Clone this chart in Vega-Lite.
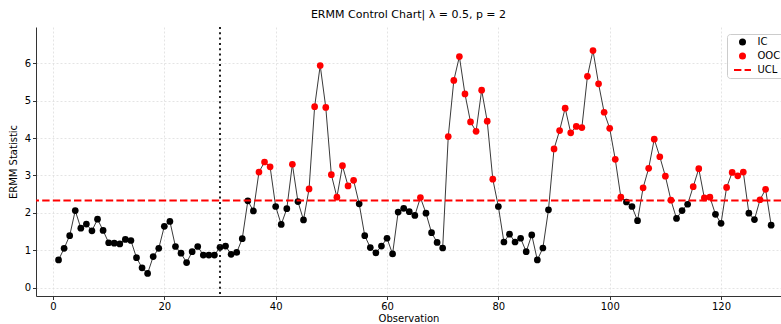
{
  "$schema": "https://vega.github.io/schema/vega-lite/v6.json",
  "autosize": {"type": "none"},
  "padding": {"left": 36, "top": 27, "right": 0, "bottom": 28},
  "width": 745,
  "height": 269,
  "title": {"text": "ERMM Control Chart| λ = 0.5, p = 2", "fontSize": 11, "fontWeight": "normal", "offset": 6, "color": "#000", "font": "DejaVu Sans"},
  "datasets": {
    "obs": [
      {"obs":1,"value":0.74,"status":"IC"},{"obs":2,"value":1.05,"status":"IC"},{"obs":3,"value":1.39,"status":"IC"},{"obs":4,"value":2.06,"status":"IC"},{"obs":5,"value":1.59,"status":"IC"},
      {"obs":6,"value":1.70,"status":"IC"},{"obs":7,"value":1.52,"status":"IC"},{"obs":8,"value":1.83,"status":"IC"},{"obs":9,"value":1.53,"status":"IC"},{"obs":10,"value":1.20,"status":"IC"},
      {"obs":11,"value":1.19,"status":"IC"},{"obs":12,"value":1.17,"status":"IC"},{"obs":13,"value":1.29,"status":"IC"},{"obs":14,"value":1.26,"status":"IC"},{"obs":15,"value":0.80,"status":"IC"},
      {"obs":16,"value":0.53,"status":"IC"},{"obs":17,"value":0.38,"status":"IC"},{"obs":18,"value":0.83,"status":"IC"},{"obs":19,"value":1.05,"status":"IC"},{"obs":20,"value":1.64,"status":"IC"},
      {"obs":21,"value":1.77,"status":"IC"},{"obs":22,"value":1.10,"status":"IC"},{"obs":23,"value":0.92,"status":"IC"},{"obs":24,"value":0.67,"status":"IC"},{"obs":25,"value":0.96,"status":"IC"},
      {"obs":26,"value":1.10,"status":"IC"},{"obs":27,"value":0.87,"status":"IC"},{"obs":28,"value":0.87,"status":"IC"},{"obs":29,"value":0.87,"status":"IC"},{"obs":30,"value":1.08,"status":"IC"},
      {"obs":31,"value":1.11,"status":"IC"},{"obs":32,"value":0.89,"status":"IC"},{"obs":33,"value":0.94,"status":"IC"},{"obs":34,"value":1.31,"status":"IC"},{"obs":35,"value":2.32,"status":"IC"},
      {"obs":36,"value":2.05,"status":"IC"},{"obs":37,"value":3.09,"status":"OOC"},{"obs":38,"value":3.36,"status":"OOC"},{"obs":39,"value":3.23,"status":"OOC"},{"obs":40,"value":2.17,"status":"IC"},
      {"obs":41,"value":1.69,"status":"IC"},{"obs":42,"value":2.11,"status":"IC"},{"obs":43,"value":3.30,"status":"OOC"},{"obs":44,"value":2.30,"status":"IC"},{"obs":45,"value":1.81,"status":"IC"},
      {"obs":46,"value":2.64,"status":"OOC"},{"obs":47,"value":4.84,"status":"OOC"},{"obs":48,"value":5.94,"status":"OOC"},{"obs":49,"value":4.82,"status":"OOC"},{"obs":50,"value":3.02,"status":"OOC"},
      {"obs":51,"value":2.42,"status":"OOC"},{"obs":52,"value":3.26,"status":"OOC"},{"obs":53,"value":2.72,"status":"OOC"},{"obs":54,"value":2.87,"status":"OOC"},{"obs":55,"value":2.24,"status":"IC"},
      {"obs":56,"value":1.39,"status":"IC"},{"obs":57,"value":1.07,"status":"IC"},{"obs":58,"value":0.93,"status":"IC"},{"obs":59,"value":1.11,"status":"IC"},{"obs":60,"value":1.32,"status":"IC"},
      {"obs":61,"value":0.90,"status":"IC"},{"obs":62,"value":2.02,"status":"IC"},{"obs":63,"value":2.12,"status":"IC"},{"obs":64,"value":2.03,"status":"IC"},{"obs":65,"value":1.93,"status":"IC"},
      {"obs":66,"value":2.41,"status":"OOC"},{"obs":67,"value":1.99,"status":"IC"},{"obs":68,"value":1.47,"status":"IC"},{"obs":69,"value":1.21,"status":"IC"},{"obs":70,"value":1.06,"status":"IC"},
      {"obs":71,"value":4.04,"status":"OOC"},{"obs":72,"value":5.54,"status":"OOC"},{"obs":73,"value":6.18,"status":"OOC"},{"obs":74,"value":5.18,"status":"OOC"},{"obs":75,"value":4.43,"status":"OOC"},
      {"obs":76,"value":4.18,"status":"OOC"},{"obs":77,"value":5.28,"status":"OOC"},{"obs":78,"value":4.45,"status":"OOC"},{"obs":79,"value":2.90,"status":"OOC"},{"obs":80,"value":2.17,"status":"IC"},
      {"obs":81,"value":1.22,"status":"IC"},{"obs":82,"value":1.43,"status":"IC"},{"obs":83,"value":1.22,"status":"IC"},{"obs":84,"value":1.32,"status":"IC"},{"obs":85,"value":0.96,"status":"IC"},
      {"obs":86,"value":1.41,"status":"IC"},{"obs":87,"value":0.74,"status":"IC"},{"obs":88,"value":1.06,"status":"IC"},{"obs":89,"value":2.08,"status":"IC"},{"obs":90,"value":3.71,"status":"OOC"},
      {"obs":91,"value":4.20,"status":"OOC"},{"obs":92,"value":4.80,"status":"OOC"},{"obs":93,"value":4.14,"status":"OOC"},{"obs":94,"value":4.31,"status":"OOC"},{"obs":95,"value":4.28,"status":"OOC"},
      {"obs":96,"value":5.65,"status":"OOC"},{"obs":97,"value":6.34,"status":"OOC"},{"obs":98,"value":5.45,"status":"OOC"},{"obs":99,"value":4.69,"status":"OOC"},{"obs":100,"value":4.26,"status":"OOC"},
      {"obs":101,"value":3.43,"status":"OOC"},{"obs":102,"value":2.42,"status":"OOC"},{"obs":103,"value":2.29,"status":"IC"},{"obs":104,"value":2.17,"status":"IC"},{"obs":105,"value":1.79,"status":"IC"},
      {"obs":106,"value":2.67,"status":"OOC"},{"obs":107,"value":3.19,"status":"OOC"},{"obs":108,"value":3.97,"status":"OOC"},{"obs":109,"value":3.50,"status":"OOC"},{"obs":110,"value":2.98,"status":"OOC"},
      {"obs":111,"value":2.34,"status":"OOC"},{"obs":112,"value":1.85,"status":"IC"},{"obs":113,"value":2.06,"status":"IC"},{"obs":114,"value":2.23,"status":"IC"},{"obs":115,"value":2.70,"status":"OOC"},
      {"obs":116,"value":3.18,"status":"OOC"},{"obs":117,"value":2.40,"status":"OOC"},{"obs":118,"value":2.42,"status":"OOC"},{"obs":119,"value":1.96,"status":"IC"},{"obs":120,"value":1.72,"status":"IC"},
      {"obs":121,"value":2.68,"status":"OOC"},{"obs":122,"value":3.08,"status":"OOC"},{"obs":123,"value":2.99,"status":"OOC"},{"obs":124,"value":3.09,"status":"OOC"},{"obs":125,"value":1.99,"status":"IC"},
      {"obs":126,"value":1.82,"status":"IC"},{"obs":127,"value":2.35,"status":"OOC"},{"obs":128,"value":2.63,"status":"OOC"},{"obs":129,"value":1.67,"status":"IC"}
    ],
    "ucl": [{"ucl": 2.33}],
    "shift": [{"t": 30}]
  },
  "layer": [
    {
      "data": {"name": "obs"},
      "mark": {"type": "line", "color": "#3a3a3a", "strokeWidth": 1},
      "encoding": {
        "x": {"field": "obs", "type": "quantitative", "title": "Observation",
              "scale": {"domain": [-3.05, 130.77], "nice": false, "zero": false},
              "axis": {"values": [0, 20, 40, 60, 80, 100, 120], "titlePadding": 2}},
        "y": {"field": "value", "type": "quantitative", "title": "ERMM Statistic",
              "scale": {"domain": [-0.224, 6.97], "nice": false, "zero": false},
              "axis": {"values": [0, 1, 2, 3, 4, 5, 6], "titlePadding": 6}}
      }
    },
    {
      "data": {"name": "obs"},
      "mark": {"type": "point", "filled": true, "size": 45, "opacity": 1},
      "encoding": {
        "x": {"field": "obs", "type": "quantitative", "title": "Observation"},
        "y": {"field": "value", "type": "quantitative", "title": "ERMM Statistic"},
        "color": {"field": "status", "type": "nominal",
                  "scale": {"domain": ["IC", "OOC", "UCL"], "range": ["black", "red", "red"]},
                  "legend": {
                    "title": null, "orient": "none", "legendX": 691, "legendY": 7,
                    "padding": 3, "strokeColor": "#cccccc", "fillColor": "rgba(255,255,255,0.85)", "cornerRadius": 3,
                    "labelFontSize": 10, "labelFont": "DejaVu Sans", "labelColor": "#000",
                    "symbolSize": 49, "symbolStrokeWidth": 0, "rowPadding": 4, "labelOffset": 10, "symbolOffset": 7.5
                  }},
        "shape": {"field": "status", "type": "nominal",
                  "scale": {"domain": ["IC", "OOC", "UCL"], "range": ["circle", "circle", "M-2.43,-0.29H-0.32V0.29H-2.43ZM0.59,-0.29H2.43V0.29H0.59Z"]},
                  "legend": {
                    "title": null, "orient": "none", "legendX": 691, "legendY": 7,
                    "padding": 3, "strokeColor": "#cccccc", "fillColor": "rgba(255,255,255,0.85)", "cornerRadius": 3,
                    "labelFontSize": 10, "labelFont": "DejaVu Sans", "labelColor": "#000",
                    "symbolSize": 49, "symbolStrokeWidth": 0, "rowPadding": 4, "labelOffset": 10, "symbolOffset": 7.5
                  }}
      }
    },
    {
      "data": {"name": "shift"},
      "mark": {"type": "rule", "color": "#222222", "strokeWidth": 2, "strokeDash": [2, 3.3]},
      "encoding": {
        "x": {"field": "t", "type": "quantitative", "title": "Observation"}
      }
    },
    {
      "data": {"name": "ucl"},
      "mark": {"type": "rule", "color": "red", "strokeWidth": 2, "strokeDash": [7.4, 3.2]},
      "encoding": {
        "y": {"field": "ucl", "type": "quantitative", "title": "ERMM Statistic"}
      }
    },
    {
      "mark": {"type": "rule", "color": "#333333", "strokeWidth": 1},
      "encoding": {"y": {"datum": 6.97, "title": "ERMM Statistic"}}
    }
  ],
  "config": {
    "font": "DejaVu Sans",
    "view": {"stroke": null},
    "axis": {
      "labelFont": "DejaVu Sans", "titleFont": "DejaVu Sans",
      "labelFontSize": 10, "titleFontSize": 10, "titleFontWeight": "normal",
      "labelColor": "#000", "titleColor": "#000",
      "tickColor": "#333", "tickSize": 3.5, "labelPadding": 2,
      "domainColor": "#333", "domainWidth": 1,
      "gridColor": "#dddddd", "gridDash": [2, 2], "gridWidth": 0.8
    }
  }
}
